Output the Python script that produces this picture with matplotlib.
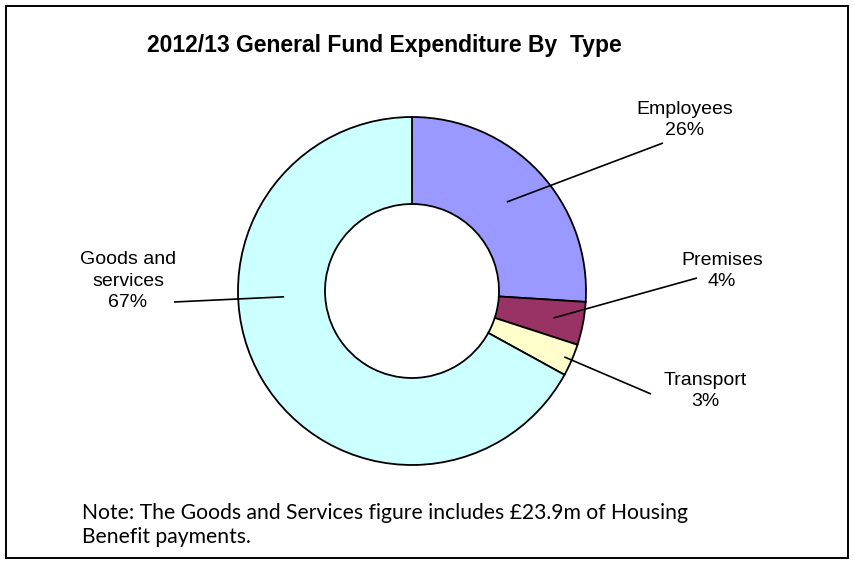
import numpy as np
import matplotlib
matplotlib.use("Agg")
import matplotlib.pyplot as plt
from matplotlib.patches import Rectangle

# expenditure split, percent of total
categories = ["Employees", "Premises", "Transport", "Goods and\nservices"]
shares = [26, 4, 3, 67]
colours = ["#9999FF", "#993366", "#FFFFCC", "#CCFFFF"]

title = "2012/13 General Fund Expenditure By  Type"
note = "Note: The Goods and Services figure includes \u00a323.9m of Housing\nBenefit payments."

W, H = 854, 564
fig = plt.figure(figsize=(W / 100, H / 100), dpi=100)
ax = fig.add_axes([0, 0, 1, 1])

cx, cy = 412, H - 291
r_out = 174
wedges, _ = ax.pie(shares, colors=colours, startangle=90, counterclock=False,
                   center=(cx, cy), radius=r_out, frame=True,
                   wedgeprops=dict(width=r_out / 2, edgecolor="black", linewidth=1.3))
ax.set_xlim(0, W)
ax.set_ylim(0, H)
ax.set_aspect("equal")
ax.axis("off")

# label placement: (anchor angle offset, anchor radius, line end, text centre)
layout = [
    (0, 130, (663, 143), (685, 120)),
    (0, 144, (697, 278), (722, 271)),
    (0, 166, (651, 394), (705, 391)),
    (-28, 128, (174, 302), (128, 281)),
]

for w, cat, val, (da, rr, end, tc) in zip(wedges, categories, shares, layout):
    mid = np.deg2rad((w.theta1 + w.theta2) / 2 + da)
    sx = cx + rr * np.cos(mid)
    sy = cy + rr * np.sin(mid)
    ax.plot([sx, end[0]], [sy, H - end[1]], color="black", lw=1.2,
            solid_capstyle="butt")
    ax.text(tc[0], H - tc[1], f"{cat}\n{val}%", ha="center", va="center",
            fontsize=14, family="Liberation Sans", linespacing=1.35)

ax.text(384, H - 45, title, ha="center", va="center", fontsize=16.5,
        fontweight="bold", family="Liberation Sans")

ax.text(82, H - 525, note, ha="left", va="center", fontsize=15.2,
        family="Lato", linespacing=1.2)

fig.patches.append(Rectangle((6 / W, 1 - 558 / H), 842 / W, 552 / H,
                             transform=fig.transFigure, fill=False,
                             edgecolor="black", linewidth=1.4))

fig.savefig("out.png", dpi=100)
